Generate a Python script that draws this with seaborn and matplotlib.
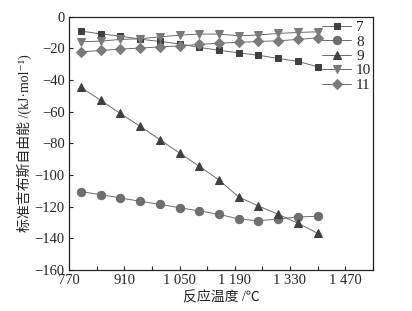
import numpy as np
import pandas as pd
import matplotlib
matplotlib.use("Agg")
import matplotlib.pyplot as plt
import seaborn as sns

# Reaction temperature (°C)
temps = [800, 850, 900, 950, 1000, 1050, 1100, 1150, 1200, 1250, 1300, 1350, 1400]

# Standard Gibbs free energy (kJ/mol) for reactions 7-11
g7 = [-9.0, -10.8, -12.2, -14.1, -15.6, -17.1, -19.4, -21.1, -22.8, -24.3, -26.3, -28.2, -31.6]
g8 = [-110.5, -112.4, -114.5, -116.6, -118.5, -120.7, -122.7, -124.8, -127.8, -128.9, -127.8, -126.5, -126.1]
g9 = [-44.5, -52.7, -61.1, -69.2, -77.6, -86.1, -94.5, -103.1, -113.9, -119.6, -124.8, -130.5, -136.8]
g10 = [-15.8, -15.4, -14.3, -13.9, -12.7, -11.6, -10.9, -10.9, -12.0, -11.5, -10.5, -9.9, -9.5]
g11 = [-22.2, -21.3, -20.4, -19.8, -19.0, -18.4, -17.5, -16.6, -16.2, -15.6, -15.2, -14.3, -13.3]

labels = ["7", "8", "9", "10", "11"]
series = [g7, g8, g9, g10, g11]
markers = ["s", "o", "^", "v", "D"]
mcolors = ["#404040", "#6e6e6e", "#404040", "#7a7a7a", "#7a7a7a"]
msizes = [5, 6, 6.3, 6.3, 5]

sns.set_style("ticks")
plt.rcParams["font.family"] = ["Liberation Serif", "Noto Sans CJK SC", "DejaVu Serif"]
plt.rcParams["axes.unicode_minus"] = True

fig = plt.figure(figsize=(4.12, 3.11), dpi=100)
ax = fig.add_axes([0.1675, 0.132, 0.7375, 0.814])

for lab, vals, m, c, s in zip(labels, series, markers, mcolors, msizes):
    df = pd.DataFrame({"T": temps, "G": vals})
    sns.lineplot(data=df, x="T", y="G", ax=ax, color="#6a6a6a", lw=0.7,
                 marker=m, markersize=s, markerfacecolor=c,
                 markeredgecolor=c, label=lab)

ax.set_xlim(770, 1540)
ax.set_ylim(-160, 0)
xt = np.arange(770, 1541, 70)
ax.set_xticks(xt)
ax.set_xticklabels([f"{v:,}".replace(",", " ") if (v - 770) % 140 == 0 and v <= 1470 else ""
                    for v in xt], fontsize=10.5)
ax.set_yticks(np.arange(-160, 1, 20))
ax.set_yticklabels([f"\u2212{abs(v)}" if v < 0 else "0" for v in range(-160, 1, 20)],
                   fontsize=10.5)
ax.tick_params(direction="in", length=3, width=0.8, color="#222222", pad=3)
for sp in ax.spines.values():
    sp.set_linewidth(0.9)
    sp.set_color("#222222")

ax.set_xlabel("反应温度 /℃", fontsize=10, labelpad=3)
ax.set_ylabel("标准吉布斯自由能 /(kJ·mol\u207b\u00b9)", fontsize=10, labelpad=2)

leg = ax.legend(loc="upper right", frameon=False, fontsize=11, handlelength=1.9,
                handletextpad=0.3, labelspacing=0.05, borderaxespad=0.0,
                bbox_to_anchor=(1.015, 1.01))

fig.savefig("out.png", dpi=100)
